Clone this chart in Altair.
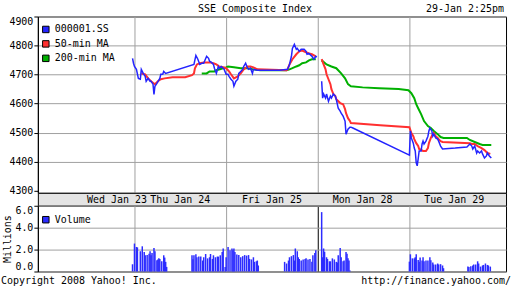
import altair as alt
import pandas as pd

FONT = "DejaVu Sans Mono"
TITLE = "SSE Composite Index"
STAMP = "29-Jan 2:25pm"
COPYRIGHT = "Copyright 2008 Yahoo! Inc."
SOURCE = "http://finance.yahoo.com/"

SERIES = ["000001.SS", "50-min MA", "200-min MA"]
COLORS = ["#2424ff", "#ff3030", "#00b000"]

# time index: one trading day = 94 units, Wed Jan 23 starts at 0
day_ticks = [94, 188, 282, 376]
day_labels = ["Wed Jan 23", "Thu Jan 24", "Fri Jan 25", "Mon Jan 28", "Tue Jan 29"]
day_label_t = [76, 141, 235, 328, 422]

price_y_ticks = [4300, 4400, 4500, 4600, 4700, 4800, 4900]
vol_y_ticks = [0, 2, 4, 6]

# ---- index (000001.SS) ----
idx_t_a = [92, 93, 94, 96, 98, 100, 101, 103, 105, 106, 108, 110, 111, 113, 114, 115, 117,
           120, 121, 123, 124, 126, 155, 157, 159, 161, 163, 165, 168, 170, 171, 173, 175,
           176, 178, 180, 181, 183, 185, 186, 188, 190, 191, 193, 195, 196, 198, 200, 201,
           203, 205, 206, 208, 210, 211, 213, 215, 216, 220, 233, 243, 251, 253, 255, 256,
           258, 260, 261, 263, 265, 268, 270, 271, 273, 275, 276, 278, 280, 281]
idx_v_a = [4756, 4739, 4728, 4718, 4687, 4684, 4718, 4704, 4694, 4677, 4687, 4677, 4677,
           4667, 4632, 4660, 4670, 4687, 4701, 4701, 4711, 4704, 4735, 4766, 4753, 4735,
           4739, 4739, 4763, 4756, 4746, 4742, 4735, 4722, 4704, 4728, 4722, 4728, 4722,
           4718, 4701, 4701, 4694, 4684, 4677, 4660, 4677, 4684, 4704, 4711, 4718, 4728,
           4739, 4722, 4718, 4722, 4704, 4718, 4715, 4715, 4715, 4718, 4735, 4763, 4790,
           4804, 4787, 4790, 4780, 4787, 4787, 4780, 4770, 4773, 4766, 4763, 4753, 4763, 4760]
idx_t_b = [286, 287, 288, 290, 291, 293, 295, 296, 298, 300, 301, 303, 305, 306, 308, 310,
           311, 313, 315, 316, 318, 376, 377, 378, 380, 381, 382, 383, 384, 385, 386, 388,
           389, 390, 391, 393, 395, 396, 397, 399, 400, 401, 403, 405, 406, 408, 410, 423,
           435, 438, 440, 441, 443, 445, 446, 448, 450, 451, 453, 455, 456, 458, 460]
idx_v_b = [4677, 4619, 4633, 4619, 4633, 4608, 4626, 4619, 4633, 4626, 4615, 4584, 4574,
           4567, 4557, 4540, 4495, 4512, 4519, 4519, 4516, 4423, 4506, 4482, 4464, 4447,
           4437, 4396, 4386, 4410, 4437, 4437, 4461, 4471, 4461, 4471, 4488, 4506, 4516,
           4506, 4488, 4495, 4482, 4478, 4471, 4454, 4444, 4447, 4451, 4461, 4454, 4444,
           4454, 4430, 4437, 4430, 4437, 4427, 4413, 4420, 4430, 4420, 4413]

# ---- 50-min moving average ----
ma50_t_a = [101, 105, 108, 111, 115, 118, 121, 125, 133, 146, 153, 155, 156, 158, 161, 165,
            171, 175, 178, 181, 185, 188, 191, 193, 196, 200, 203, 206, 210, 213, 216, 220,
            250, 251, 253, 256, 260, 263, 266, 270, 273, 276, 280]
ma50_v_a = [4704, 4701, 4687, 4677, 4667, 4677, 4684, 4687, 4691, 4691, 4698, 4704, 4722,
            4735, 4739, 4742, 4742, 4739, 4735, 4728, 4725, 4722, 4711, 4701, 4687, 4694,
            4704, 4718, 4728, 4728, 4725, 4718, 4715, 4718, 4735, 4753, 4770, 4780, 4783,
            4777, 4773, 4770, 4763]
ma50_t_b = [286, 288, 290, 291, 293, 295, 296, 298, 300, 301, 305, 308, 310, 311, 313, 315,
            316, 346, 376, 378, 380, 381, 383, 385, 386, 390, 393, 395, 396, 398, 400, 401,
            403, 405, 406, 408, 410, 438, 440, 443, 446, 450, 453, 456, 459]
ma50_v_b = [4753, 4735, 4718, 4701, 4684, 4667, 4650, 4633, 4626, 4615, 4602, 4598, 4581,
            4567, 4550, 4540, 4533, 4526, 4519, 4499, 4488, 4478, 4464, 4454, 4444, 4437,
            4437, 4447, 4464, 4482, 4495, 4499, 4488, 4482, 4478, 4471, 4468, 4464, 4461,
            4461, 4454, 4447, 4440, 4430, 4427]

# ---- 200-min moving average ----
ma200_t_a = [163, 168, 171, 176, 178, 185, 188, 190, 196, 203, 210, 216, 223, 250, 253, 256,
             260, 263, 266, 270, 273, 276, 280]
ma200_v_a = [4704, 4704, 4711, 4711, 4715, 4722, 4725, 4728, 4725, 4722, 4722, 4718, 4715,
             4715, 4718, 4722, 4728, 4732, 4739, 4742, 4749, 4753, 4753]
ma200_t_b = [286, 291, 296, 301, 306, 310, 313, 316, 328, 345, 365, 375, 378, 381, 383, 385,
             388, 391, 395, 398, 401, 405, 408, 411, 435, 438, 443, 448, 451, 460]
ma200_v_b = [4749, 4735, 4728, 4722, 4704, 4687, 4667, 4660, 4656, 4653, 4650, 4646, 4636,
             4619, 4598, 4584, 4564, 4540, 4523, 4516, 4506, 4495, 4485, 4482, 4482, 4475,
             4468, 4461, 4458, 4458]

# ---- volume (millions) ----
vol_t = [92, 94, 96, 97, 100, 102, 104, 105, 107, 109, 110, 111, 112, 114, 115, 117, 118, 119,
         120, 122, 124, 125, 126, 127,
         153, 154, 155, 157, 158, 160, 162, 164, 165, 167, 169, 171, 172, 174, 175, 177, 179,
         180, 182, 184, 185, 187,
         188, 190, 192, 194, 195, 196, 197, 199, 201, 203, 205, 207, 209, 211, 212, 214, 216,
         217, 219, 220, 221,
         248, 250, 252, 253, 255, 257, 258, 259, 261, 262, 263, 265, 267, 269, 270, 272, 274,
         276, 277, 279, 280,
         286, 287, 288, 289, 291, 292, 294, 295, 297, 299, 301, 302, 303, 305, 306, 308, 309,
         311, 312, 313, 314, 315,
         376, 377, 379, 381, 382, 383, 385, 386, 387, 389, 390, 391, 393, 395, 397, 398, 400,
         401, 403, 405, 406, 408, 410, 411,
         436, 437, 439, 441, 442, 444, 446, 447, 449, 451, 452, 454, 456, 457, 459]
vol_m = [0.66, 2.55, 2.24, 2.2, 1.85, 2.3, 1.78, 1.48, 1.5, 1.63, 1.85, 1.48, 1.7, 2.15, 1.85,
         1.03, 1.1, 1.2, 1.15, 0.93, 1.48, 1.27, 0.88, 0.42,
         1.48, 1.12, 1.48, 1.57, 1.3, 1.36, 1.36, 1.0, 1.3, 1.6, 1.2, 1.3, 1.6, 1.15, 1.48,
         1.3, 1.36, 1.36, 1.48, 1.78, 2.1, 0.42,
         1.3, 2.24, 1.94, 2.1, 1.94, 2.1, 1.78, 1.55, 1.5, 1.3, 1.4, 1.5, 1.45, 1.5, 1.15,
         1.1, 1.3, 0.88, 0.93, 1.0, 0.55,
         0.88, 0.73, 1.0, 1.3, 1.4, 1.5, 1.0, 2.1, 1.85, 1.3, 1.15, 1.0, 1.1, 1.15, 1.2, 1.1,
         1.15, 0.88, 1.48, 1.7, 1.94,
         5.42, 1.3, 2.1, 1.8, 1.3, 1.15, 0.93, 0.93, 1.2, 1.1, 0.88, 0.82, 1.48, 2.15, 1.3,
         0.93, 1.0, 1.78, 1.63, 1.2, 1.0, 0.1,
         0.9, 1.57, 1.2, 1.2, 1.3, 1.57, 1.05, 0.88, 1.27, 1.0, 1.3, 0.93, 1.0, 1.0, 1.3,
         1.03, 0.82, 0.64, 0.64, 0.73, 0.64, 0.67, 0.55, 0.3,
         0.45, 0.42, 0.48, 0.55, 0.64, 0.64, 0.93, 0.73, 0.45, 0.55, 0.6, 0.73, 0.6, 0.55, 0.45]


def seg(series, part, t, v):
    return pd.DataFrame({"t": t, "v": v, "series": series, "seg": part})


line_dfs = {
    SERIES[0]: pd.concat([seg(SERIES[0], "a", idx_t_a, idx_v_a), seg(SERIES[0], "b", idx_t_b, idx_v_b)]),
    SERIES[1]: pd.concat([seg(SERIES[1], "a", ma50_t_a, ma50_v_a), seg(SERIES[1], "b", ma50_t_b, ma50_v_b)]),
    SERIES[2]: pd.concat([seg(SERIES[2], "a", ma200_t_a, ma200_v_a), seg(SERIES[2], "b", ma200_t_b, ma200_v_b)]),
}
# legend keys: placed outside the x domain so the clipped mark itself is not drawn
legend_df = pd.DataFrame({"series": SERIES, "t": [-50, -50, -50], "v": [4700, 4700, 4700]})
vol_df = pd.DataFrame({"t": vol_t, "m": vol_m, "name": "Volume"})

GRID = "#a0a0a0"
W = 470
xscale = alt.Scale(domain=[0, W], nice=False, zero=False)
yscale_main = alt.Scale(domain=[4293, 4900], nice=False, zero=False)

x_axis_main = alt.Axis(values=day_ticks, labels=False, ticks=False, domain=False, title=None,
                       grid=True, gridColor=GRID)
y_axis_main = alt.Axis(values=price_y_ticks, title=None, format="d", labelFlush=True,
                       labelOverlap=False, tickSize=4, labelPadding=1, grid=True,
                       gridColor=GRID,
                       gridOpacity=alt.condition(alt.datum.value <= 4300, alt.value(0), alt.value(1)))
X_MAIN = alt.X("t:Q", scale=xscale, axis=x_axis_main)
Y_MAIN = alt.Y("v:Q", scale=yscale_main, axis=y_axis_main)

layers = []
for i, sw in [(2, 2), (1, 2), (0, 1.5)]:
    layers.append(
        alt.Chart(line_dfs[SERIES[i]])
        .mark_line(strokeWidth=sw, color=COLORS[i])
        .encode(x=X_MAIN, y=Y_MAIN, detail="seg:N")
    )

legend_layer = alt.Chart(legend_df).mark_square(clip=True, stroke="black", strokeWidth=1,
                                                 opacity=1, size=42).encode(
    x=X_MAIN,
    y=Y_MAIN,
    fill=alt.Fill("series:N", scale=alt.Scale(domain=SERIES, range=COLORS),
                  legend=alt.Legend(title=None, orient="none", legendX=3, legendY=8,
                                    symbolType="square", symbolSize=42, symbolOpacity=1,
                                    symbolStrokeColor="black", symbolStrokeWidth=1,
                                    labelOffset=4, rowPadding=2.5, padding=0)),
)

title_layer = alt.Chart(pd.DataFrame({"s": [TITLE]})).mark_text(
    font=FONT, fontSize=10, align="center", baseline="middle", color="black"
).encode(text="s:N", x=alt.value(218), y=alt.value(-8))
stamp_layer = alt.Chart(pd.DataFrame({"s": [STAMP]})).mark_text(
    font=FONT, fontSize=10, align="right", baseline="middle", color="black"
).encode(text="s:N", x=alt.value(468), y=alt.value(-8))

main = alt.layer(*layers, legend_layer, title_layer, stamp_layer).properties(width=W, height=177)

band = alt.Chart(pd.DataFrame({"t": day_label_t, "label": day_labels})).mark_text(
    font=FONT, fontSize=10, baseline="middle", color="black"
).encode(
    x=alt.X("t:Q", scale=xscale, axis=None),
    y=alt.value(7),
    text="label:N",
).properties(width=W, height=13, view=alt.ViewBackground(fill="#e4e4e4", stroke="black"))

vol_bars = alt.Chart(vol_df).mark_bar(width=1.5).encode(
    x=alt.X("t:Q", scale=xscale,
            axis=alt.Axis(values=day_ticks, labels=False, ticks=False, domain=False, title=None,
                          grid=True,
                          gridColor=alt.condition(alt.datum.value == 282, alt.value("black"), alt.value(GRID)))),
    y=alt.Y("m:Q", scale=alt.Scale(domain=[0, 6], nice=False, zero=True),
            axis=alt.Axis(values=vol_y_ticks, format=".1f", title="Millions", titlePadding=2,
                          labelFlush=True, labelOverlap=False,
                          tickSize=4, labelPadding=1, grid=True, gridColor=GRID)),
    fill=alt.Fill("name:N", scale=alt.Scale(domain=["Volume"], range=["#2c2cff"]),
                  legend=alt.Legend(title=None, orient="none", legendX=3, legendY=9,
                                    symbolType="square", symbolSize=42, symbolOpacity=1,
                                    symbolStrokeColor="black", symbolStrokeWidth=1,
                                    labelOffset=4, padding=0)),
)
copy_layer = alt.Chart(pd.DataFrame({"s": [COPYRIGHT]})).mark_text(
    font=FONT, fontSize=10, align="left", baseline="middle", color="black"
).encode(text="s:N", x=alt.value(-37), y=alt.value(76))
src_layer = alt.Chart(pd.DataFrame({"s": [SOURCE]})).mark_text(
    font=FONT, fontSize=10, align="right", baseline="middle", color="black"
).encode(text="s:N", x=alt.value(475), y=alt.value(76))

vol = alt.layer(vol_bars, copy_layer, src_layer).properties(width=W, height=66)

chart = (
    alt.vconcat(main, band, vol, spacing=0, bounds="flush")
    .resolve_scale(fill="independent", x="shared")
    .resolve_legend(fill="independent")
    .properties(padding={"left": 0, "top": 2, "right": 0, "bottom": 2}, background="white")
    .configure_view(stroke="black", strokeWidth=1)
    .configure_axis(labelFont=FONT, labelFontSize=10, labelColor="black", titleFont=FONT,
                    titleFontSize=10, titleFontWeight="normal", titleColor="black",
                    tickColor="black", domainColor="black", gridWidth=1)
    .configure_legend(labelFont=FONT, labelFontSize=10, labelColor="black")
)

chart.save("out.html", embed_options={"renderer": "svg", "actions": False})
